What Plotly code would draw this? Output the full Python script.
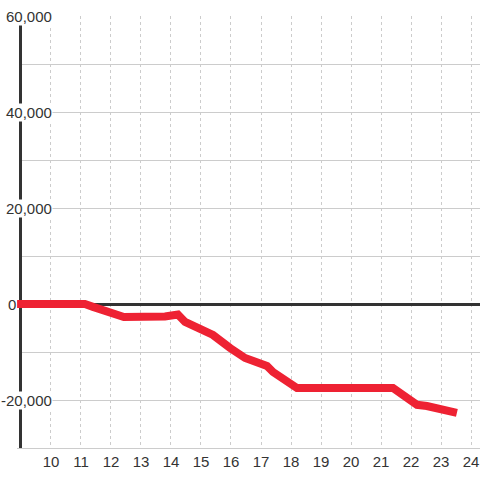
import plotly.graph_objects as go

# Data
x_vals = [8.87, 11.13, 11.4, 12.3, 12.43, 13.8, 14.23, 14.47, 14.97, 15.4, 15.97,
          16.47, 17.2, 17.4, 18.2, 21.4, 22.2, 22.53, 23.53]
y_vals = [0, 0, -600, -2300, -2700, -2600, -2200, -3750, -5000, -6450, -9170,
          -11250, -12900, -14170, -17500, -17500, -21000, -21250, -22700]

x_ticks = list(range(10, 25))
y_grid = list(range(-30000, 60001, 10000))
y_label_vals = [60000, 40000, 20000, 0, -20000]
y_label_text = ["60,000", "40,000", "20,000", "0", "-20,000"]

FONT = "Liberation Sans, Arial, sans-serif"
TXT = "#333333"
BG = "#ffffff"

W, H = 480, 480
ML, MR, MT, MB = 17, 0, 16, 32
X0, X1 = 8.867, 24.3
pw = W - ML - MR
ppu = pw / (X1 - X0)


def px_to_x(px):
    return X0 + (px - ML) / ppu


fig = go.Figure()
fig.add_trace(go.Scatter(
    x=x_vals, y=y_vals, mode="lines",
    line=dict(color="#ee2233", width=8),
    hoverinfo="skip", showlegend=False,
))

fig.update_layout(
    width=W, height=H,
    margin=dict(l=ML, r=MR, t=MT, b=MB),
    paper_bgcolor=BG, plot_bgcolor=BG,
    font=dict(family=FONT, size=15, color=TXT),
    showlegend=False,
    xaxis=dict(
        range=[X0, X1], tickvals=x_ticks, ticktext=[str(v) for v in x_ticks],
        showgrid=True, gridcolor="#cccccc", gridwidth=1, griddash="dot",
        zeroline=False, showline=True, linecolor="#cccccc", linewidth=1,
        ticks="", tickfont=dict(family=FONT, size=15, color=TXT),
        fixedrange=True,
    ),
    yaxis=dict(
        range=[-30000, 60000], tickvals=y_grid, showticklabels=False,
        showgrid=True, gridcolor="#cccccc", gridwidth=1,
        zeroline=True, zerolinecolor="#333333", zerolinewidth=3,
        showline=False, ticks="", fixedrange=True,
    ),
)

# hide gridline stubs left of the axis line, then draw the axis line
fig.add_shape(type="rect", xref="x", yref="y", layer="between",
              x0=X0, x1=px_to_x(19), y0=-30000, y1=60000,
              fillcolor=BG, line=dict(width=0))
fig.add_shape(type="line", xref="x", yref="y", layer="between",
              x0=px_to_x(20.5), x1=px_to_x(20.5), y0=-30000, y1=60000,
              line=dict(color="#333333", width=3))

label_right_px = [52.5, 52.5, 52.5, 16.5, 52.5]
for v, t, rp in zip(y_label_vals, y_label_text, label_right_px):
    fig.add_annotation(
        x=(rp - ML) / pw, xref="paper", xanchor="right",
        y=v, yref="y", yanchor="middle",
        text=t, showarrow=False, bgcolor=BG if v != 0 else "rgba(0,0,0,0)",
        borderpad=0,
        font=dict(family=FONT, size=15, color=TXT),
    )

fig.write_html("out.html", config={"displayModeBar": False},
               post_script="document.body.style.margin='0';")
